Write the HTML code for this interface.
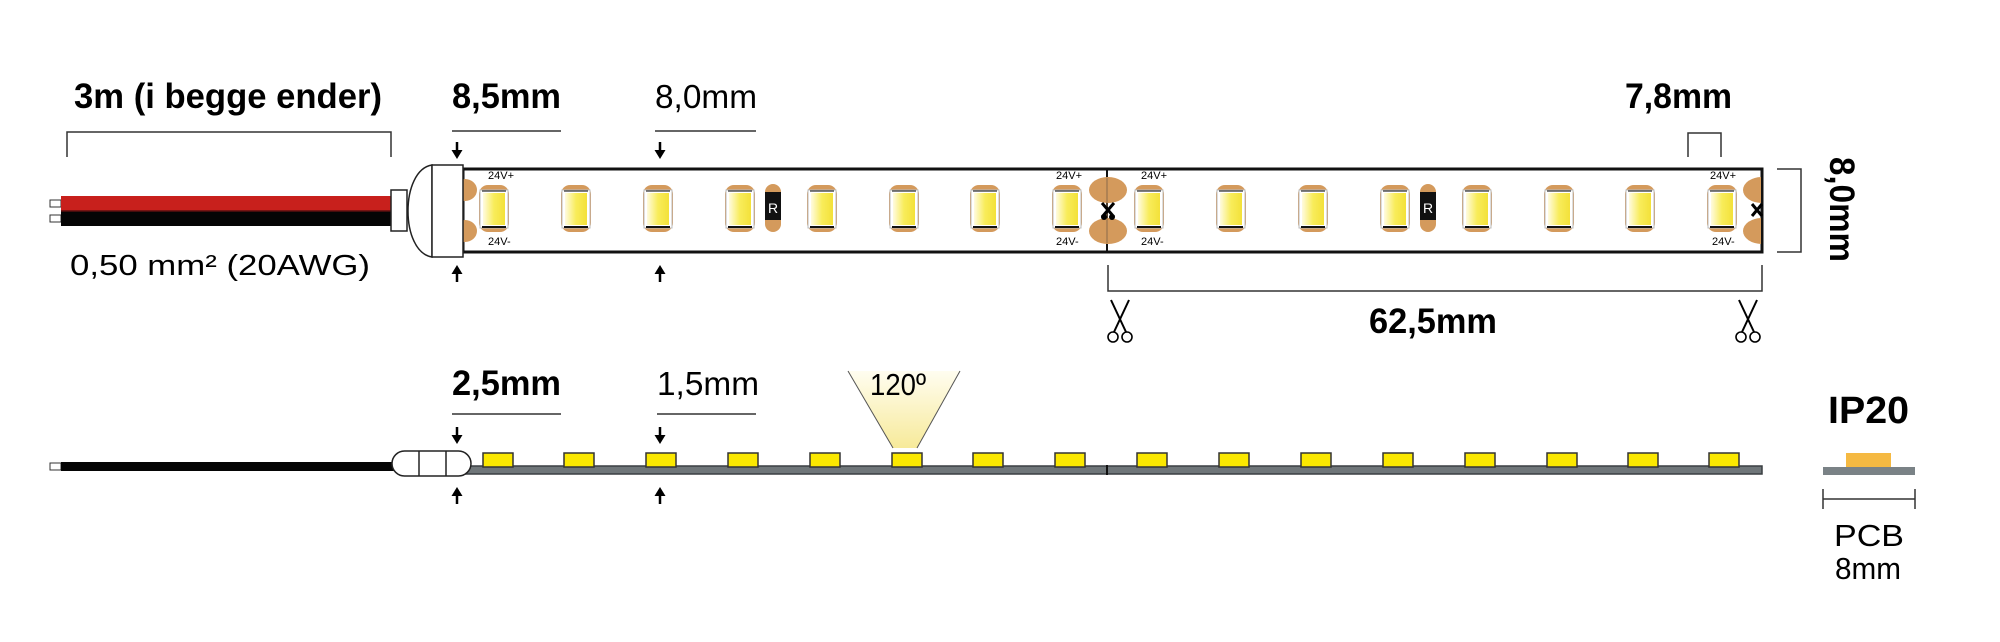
<!DOCTYPE html>
<html><head><meta charset="utf-8"><style>
html,body{margin:0;padding:0;background:#fff;}
svg{display:block;}
text{font-family:"Liberation Sans",sans-serif;fill:#000;}
.b{font-weight:bold;}
</style></head><body>
<svg width="2000" height="642" viewBox="0 0 2000 642" xmlns="http://www.w3.org/2000/svg">
<defs>
<linearGradient id="ly" x1="0" x2="1">
<stop offset="0" stop-color="#fffbe0"/><stop offset="0.5" stop-color="#f8ec5a"/><stop offset="1" stop-color="#f3e13a"/>
</linearGradient>
<linearGradient id="cone" x1="0" y1="0" x2="0" y2="1">
<stop offset="0" stop-color="#fffdf0"/><stop offset="1" stop-color="#f7ea9a"/>
</linearGradient>
<g id="led">
<rect x="-15" y="185" width="30" height="47" rx="9" fill="#d49a5c"/>
<rect x="-14" y="190" width="28" height="38" fill="#fff" stroke="#bbb" stroke-width="1"/>
<rect x="-11" y="193" width="22" height="32" fill="url(#ly)"/>
<line x1="-12" y1="191" x2="12" y2="191" stroke="#555" stroke-width="1.5"/>
<line x1="-12" y1="227" x2="12" y2="227" stroke="#111" stroke-width="2"/>
</g>
<g id="res">
<rect x="-8" y="184" width="16" height="48" rx="8" fill="#d49a5c"/>
<rect x="-8" y="192" width="16" height="28" fill="#111"/>
<text x="0" y="213" font-size="14" text-anchor="middle" style="fill:#fff">R</text>
</g>
<g id="bled">
<rect x="-15" y="453" width="30" height="14" fill="#fbe800" stroke="#333" stroke-width="1.5"/>
</g>
<g id="sc">
<line x1="-9" y1="0" x2="6" y2="32" stroke="#000" stroke-width="2"/>
<line x1="9" y1="0" x2="-6" y2="32" stroke="#000" stroke-width="2"/>
<circle cx="-7" cy="37" r="5" fill="none" stroke="#000" stroke-width="1.6"/>
<circle cx="7" cy="37" r="5" fill="none" stroke="#000" stroke-width="1.6"/>
</g>
<g id="ad"><line x1="0" y1="0" x2="0" y2="9" stroke="#000" stroke-width="2.5"/><path d="M-5.5 8 L5.5 8 L0 17 Z" fill="#000"/></g>
<g id="au"><line x1="0" y1="8" x2="0" y2="17" stroke="#000" stroke-width="2.5"/><path d="M-5.5 9 L5.5 9 L0 0 Z" fill="#000"/></g>
</defs>

<text class="b" x="74" y="108" font-size="35" textLength="308" lengthAdjust="spacingAndGlyphs">3m (i begge ender)</text>
<path d="M67 157 V132 H391 V157" fill="none" stroke="#333" stroke-width="1.5"/>
<text class="b" x="452" y="108" font-size="35" textLength="109" lengthAdjust="spacingAndGlyphs">8,5mm</text>
<line x1="452" y1="131" x2="561" y2="131" stroke="#333" stroke-width="1.5"/>
<text x="655" y="108" font-size="33" textLength="102" lengthAdjust="spacingAndGlyphs">8,0mm</text>
<line x1="655" y1="131" x2="756" y2="131" stroke="#333" stroke-width="1.5"/>
<text class="b" x="1625" y="108" font-size="35" textLength="107" lengthAdjust="spacingAndGlyphs">7,8mm</text>
<path d="M1688 157 V133 H1721 V157" fill="none" stroke="#333" stroke-width="1.5"/>

<use href="#ad" x="457" y="142"/><use href="#au" x="457" y="265"/>
<use href="#ad" x="660" y="142"/><use href="#au" x="660" y="265"/>

<rect x="50" y="200" width="11" height="7" fill="#fff" stroke="#333" stroke-width="1"/>
<rect x="50" y="215" width="11" height="7" fill="#fff" stroke="#333" stroke-width="1"/>
<rect x="61" y="196" width="331" height="15" fill="#c8201c"/>
<rect x="61" y="211" width="331" height="15" fill="#050505"/>
<line x1="61" y1="211" x2="392" y2="211" stroke="#5a1010" stroke-width="1.5"/>
<text x="70" y="275" font-size="29" textLength="300" lengthAdjust="spacingAndGlyphs">0,50 mm² (20AWG)</text>

<rect x="463" y="169" width="1299" height="83" fill="#fff" stroke="#111" stroke-width="3"/>
<line x1="1107" y1="169" x2="1107" y2="252" stroke="#111" stroke-width="2"/>
<clipPath id="c1"><rect x="463" y="170" width="20" height="82"/></clipPath>
<g clip-path="url(#c1)" fill="#d49a5c">
<ellipse cx="465" cy="190" rx="12" ry="11"/><ellipse cx="465" cy="231" rx="12" ry="11"/>
</g>
<ellipse cx="1108" cy="190" rx="19" ry="13" fill="#d49a5c"/>
<ellipse cx="1108" cy="231" rx="19" ry="13" fill="#d49a5c"/>
<line x1="1107" y1="178" x2="1107" y2="243" stroke="#8a6a4a" stroke-width="1"/>
<path d="M1102 203 L1114 217 M1114 203 L1102 217" stroke="#000" stroke-width="3"/>
<circle cx="1104" cy="217" r="3" fill="#000"/><circle cx="1112" cy="217" r="3" fill="#000"/>
<clipPath id="c2"><rect x="1740" y="170" width="21" height="82"/></clipPath>
<g clip-path="url(#c2)" fill="#d49a5c">
<ellipse cx="1762" cy="190" rx="19" ry="13"/><ellipse cx="1762" cy="231" rx="19" ry="13"/>
</g>
<path d="M1752 204 L1762 216 M1762 204 L1752 216" stroke="#000" stroke-width="3"/>

<use href="#led" x="494"/><use href="#led" x="576"/><use href="#led" x="658"/><use href="#led" x="740"/>
<use href="#led" x="822"/><use href="#led" x="904"/><use href="#led" x="985"/><use href="#led" x="1067"/>
<use href="#led" x="1149"/><use href="#led" x="1231"/><use href="#led" x="1313"/><use href="#led" x="1395"/>
<use href="#led" x="1477"/><use href="#led" x="1559"/><use href="#led" x="1640"/><use href="#led" x="1722"/>
<use href="#res" x="773"/><use href="#res" x="1428"/>

<g font-size="11">
<text x="488" y="179">24V+</text><text x="488" y="245">24V-</text>
<text x="1056" y="179">24V+</text><text x="1056" y="245">24V-</text>
<text x="1141" y="179">24V+</text><text x="1141" y="245">24V-</text>
<text x="1710" y="179">24V+</text><text x="1712" y="245">24V-</text>
</g>

<rect x="391" y="190" width="16" height="41" fill="#fff" stroke="#222" stroke-width="1.5"/>
<path d="M432 165 C400 170 400 252 432 257 Z" fill="#fff" stroke="#222" stroke-width="1.5"/>
<rect x="432" y="165" width="31" height="92" fill="#fff" stroke="#222" stroke-width="1.5"/>

<path d="M1777 169 H1801 V252 H1777" fill="none" stroke="#333" stroke-width="1.5"/>
<text class="b" font-size="35" transform="translate(1830,157) rotate(90)" textLength="105" lengthAdjust="spacingAndGlyphs">8,0mm</text>

<path d="M1108 265 V291 H1762 V265" fill="none" stroke="#333" stroke-width="1.5"/>
<text class="b" x="1369" y="333" font-size="35" textLength="128" lengthAdjust="spacingAndGlyphs">62,5mm</text>
<use href="#sc" x="1120" y="300"/>
<use href="#sc" x="1748" y="300"/>

<text class="b" x="452" y="395" font-size="35" textLength="109" lengthAdjust="spacingAndGlyphs">2,5mm</text>
<line x1="452" y1="414" x2="561" y2="414" stroke="#333" stroke-width="1.5"/>
<text x="657" y="395" font-size="33" textLength="102" lengthAdjust="spacingAndGlyphs">1,5mm</text>
<line x1="657" y1="414" x2="756" y2="414" stroke="#333" stroke-width="1.5"/>
<use href="#ad" x="457" y="427"/><use href="#au" x="457" y="487"/>
<use href="#ad" x="660" y="427"/><use href="#au" x="660" y="487"/>
<path d="M848 371 L960 371 L917 448 L893 448 Z" fill="url(#cone)"/>
<line x1="848" y1="371" x2="893" y2="448" stroke="#555" stroke-width="1"/>
<line x1="960" y1="371" x2="917" y2="448" stroke="#555" stroke-width="1"/>
<text x="870" y="395" font-size="31" textLength="56" lengthAdjust="spacingAndGlyphs">120º</text>

<rect x="50" y="463" width="11" height="7" fill="#fff" stroke="#333" stroke-width="1"/>
<rect x="61" y="462" width="333" height="9" fill="#050505"/>
<rect x="465" y="466" width="1297" height="8" fill="#6f7679" stroke="#3a3f42" stroke-width="1.5"/>
<line x1="1107" y1="465" x2="1107" y2="475" stroke="#111" stroke-width="2"/>
<rect x="392" y="451" width="79" height="25" rx="12.5" fill="#fff" stroke="#222" stroke-width="1.5"/>
<line x1="419" y1="451" x2="419" y2="476" stroke="#222" stroke-width="1.5"/>
<line x1="446" y1="451" x2="446" y2="476" stroke="#222" stroke-width="1.5"/>

<use href="#bled" x="498"/><use href="#bled" x="579"/><use href="#bled" x="661"/><use href="#bled" x="743"/>
<use href="#bled" x="825"/><use href="#bled" x="907"/><use href="#bled" x="988"/><use href="#bled" x="1070"/>
<use href="#bled" x="1152"/><use href="#bled" x="1234"/><use href="#bled" x="1316"/><use href="#bled" x="1398"/>
<use href="#bled" x="1480"/><use href="#bled" x="1562"/><use href="#bled" x="1643"/><use href="#bled" x="1724"/>

<text class="b" x="1828" y="423" font-size="38" textLength="81" lengthAdjust="spacingAndGlyphs">IP20</text>
<rect x="1846" y="453" width="45" height="14" fill="#f5b942"/>
<rect x="1823" y="467" width="92" height="8" fill="#7a8286"/>
<path d="M1823 489 V509 M1915 489 V509 M1823 499 H1915" stroke="#333" stroke-width="1.5" fill="none"/>
<text x="1834" y="546" font-size="31" textLength="70" lengthAdjust="spacingAndGlyphs">PCB</text>
<text x="1835" y="579" font-size="31" textLength="66" lengthAdjust="spacingAndGlyphs">8mm</text>
</svg>
</body></html>
